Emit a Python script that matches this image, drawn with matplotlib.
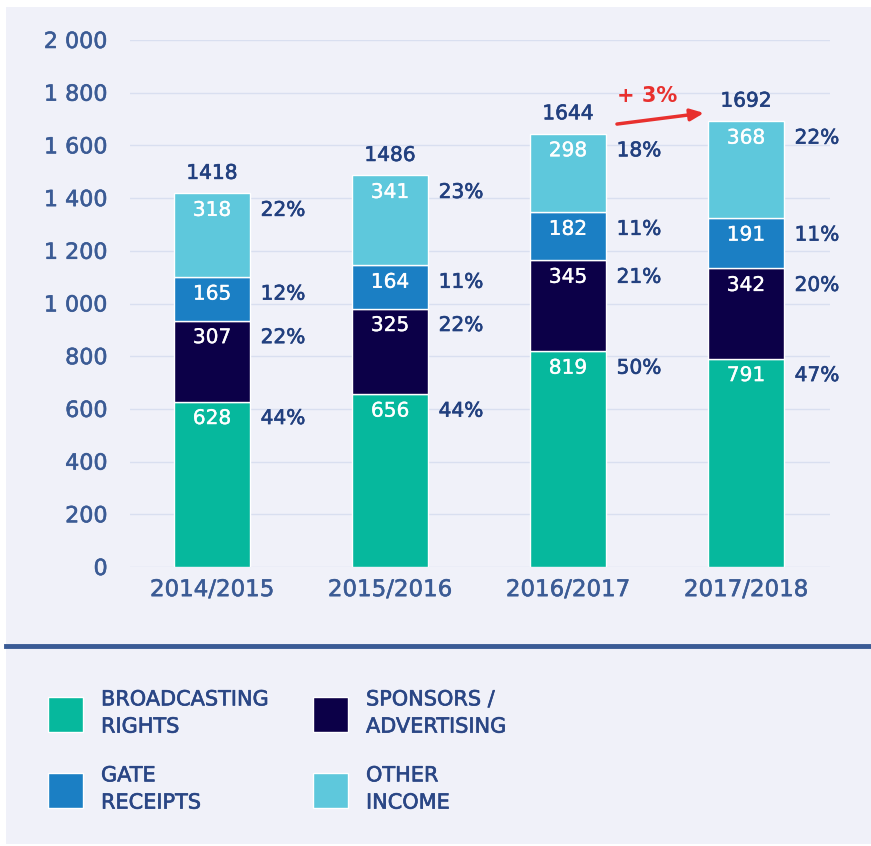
import matplotlib
matplotlib.use("Agg")
import matplotlib.pyplot as plt
from matplotlib.patches import Rectangle
import matplotlib.patheffects as pe
import numpy as np

plt.rcParams['font.family'] = ['DejaVu Sans']

seasons = ["2014/2015", "2015/2016", "2016/2017", "2017/2018"]
series_names = ["BROADCASTING\nRIGHTS", "SPONSORS /\nADVERTISING", "GATE\nRECEIPTS", "OTHER\nINCOME"]
broadcasting = [628, 656, 819, 791]
sponsors = [307, 325, 345, 342]
gate = [165, 164, 182, 191]
other = [318, 341, 298, 368]
pct_broadcasting = ["44%", "44%", "50%", "47%"]
pct_sponsors = ["22%", "22%", "21%", "20%"]
pct_gate = ["12%", "11%", "11%", "11%"]
pct_other = ["22%", "23%", "18%", "22%"]
totals = [1418, 1486, 1644, 1692]
yticks = [0, 200, 400, 600, 800, 1000, 1200, 1400, 1600, 1800, 2000]
ytick_labels = ["0", "200", "400", "600", "800", "1 000", "1 200", "1 400", "1 600", "1 800", "2 000"]
growth_label = "+ 3%"

colors = ["#06b89d", "#0c0048", "#1b7fc4", "#5ec8dc"]
bg = "#f0f1f9"
tick_color = "#3b5b95"
label_color = "#22407f"
legend_color = "#2a4685"
red = "#e8302e"


def medium(color, lw=0.45):
    return [pe.withStroke(linewidth=lw, foreground=color)]


W, H = 871, 846
fig = plt.figure(figsize=(W / 100, H / 100), dpi=100)
fig.patch.set_facecolor("white")
fig.patches.append(Rectangle((6 / W, 2 / H), 1 - 6 / W, (844 - 7) / H,
                             transform=fig.transFigure, facecolor=bg,
                             edgecolor="none", zorder=-10))
# separator line
fig.add_artist(plt.Line2D([6 / W, 1], [1 - 646 / H, 1 - 646 / H],
                          transform=fig.transFigure, color="#3a5b96", lw=3.5))

ax = fig.add_axes([130 / W, (H - 567) / H, 700 / W, 527 / H])
ax.set_facecolor("none")
x = np.arange(len(seasons))
width = 0.427
series = [broadcasting, sponsors, gate, other]
pcts = [pct_broadcasting, pct_sponsors, pct_gate, pct_other]
bottom = np.zeros(len(seasons))
for vals, pc, col in zip(series, pcts, colors):
    vals = np.array(vals, dtype=float)
    ax.bar(x, vals, width, bottom=bottom, color=col, edgecolor="white",
           linewidth=1, zorder=3)
    tops = bottom + vals
    for xi, t, v, p in zip(x, tops, vals, pc):
        ax.annotate(f"{int(v)}", (xi, t), xytext=(0, -17), textcoords="offset pixels",
                    ha="center", va="center", color="white", fontsize=14.5,
                    zorder=4, path_effects=medium("white", 0.25))
        ax.annotate(p, (xi + width / 2, t), xytext=(33, -17), textcoords="offset pixels",
                    ha="center", va="center", color=label_color, fontsize=14.5,
                    zorder=4, path_effects=medium(label_color))
    bottom = tops

for xi, tot in zip(x, totals):
    ax.annotate(f"{tot}", (xi, tot), xytext=(0, 20), textcoords="offset pixels",
                ha="center", va="center", color=label_color, fontsize=14.5,
                path_effects=medium(label_color))

# growth arrow
ax.annotate("", xy=(2.764, 1723), xytext=(2.275, 1681),
            arrowprops=dict(arrowstyle="-|>,head_length=0.8,head_width=0.35",
                            color=red, lw=2.5, shrinkA=0, shrinkB=0))
ax.text(2.444, 1787, growth_label, color=red, fontsize=15, fontweight="bold",
        ha="center", va="center")

ax.set_xlim(-0.461, 3.472)
ax.set_ylim(0, 2000)
ax.set_yticks(yticks)
ax.set_yticklabels(ytick_labels)
ax.set_xticks(x)
ax.set_xticklabels(seasons)
ax.tick_params(axis="y", length=0, pad=16, labelsize=16, labelcolor=tick_color)
ax.tick_params(axis="x", length=0, pad=8, labelsize=16.5, labelcolor=tick_color)
for lbl in ax.get_yticklabels() + ax.get_xticklabels():
    lbl.set_path_effects(medium(tick_color, 0.4))
for s in ax.spines.values():
    s.set_visible(False)
ax.grid(axis="y", color="#d9dff0", lw=1, zorder=0)
ax.set_axisbelow(True)

# legend
leg_pos = [(48, 697), (313, 697), (48, 773), (313, 773)]
for name, col, (lx, ly) in zip(series_names, colors, leg_pos):
    fig.patches.append(Rectangle((lx / W, 1 - (ly + 35) / H), 35 / W, 35 / H,
                                 transform=fig.transFigure, facecolor=col,
                                 edgecolor="white", lw=1))
    fig.text((lx + 53) / W, 1 - (ly + 16) / H, name, ha="left", va="center",
             color=legend_color, fontsize=15, linespacing=1.45,
             path_effects=medium(legend_color))

fig.savefig("out.png", dpi=100, facecolor=fig.get_facecolor())
